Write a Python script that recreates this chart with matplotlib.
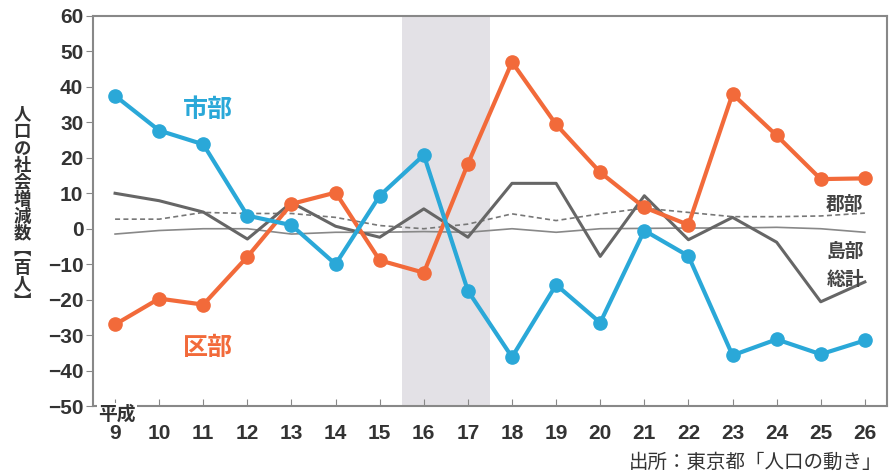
import matplotlib
matplotlib.use("Agg")
import matplotlib.pyplot as plt

plt.rcParams['font.family'] = ['Noto Sans CJK JP', 'DejaVu Sans']

years = list(range(9, 27))
shibu = [37.5, 27.7, 23.8, 3.7, 1.0, -10.0, 9.3, 20.8, -17.5, -36.2, -15.8, -26.5,
         -0.5, -7.7, -35.7, -31.2, -35.4, -31.5]
kubu = [-27.0, -19.7, -21.4, -7.9, 7.0, 10.2, -8.9, -12.4, 18.3, 47.0, 29.4, 15.9,
        6.0, 1.1, 38.0, 26.3, 14.0, 14.2]
soukei = [10.0, 7.9, 4.7, -2.9, 7.4, 0.7, -2.4, 5.6, -2.4, 12.8, 12.8, -7.8,
          9.3, -3.1, 3.2, -3.8, -20.6, -15.0]
gunbu = [2.7, 2.7, 4.6, 4.3, 4.3, 3.2, 0.9, 0.0, 1.3, 4.2, 2.3, 4.2,
         5.8, 4.6, 3.4, 3.4, 3.6, 4.4]
tobu = [-1.5, -0.5, 0.0, 0.0, -1.5, -1.0, -1.0, -0.8, -1.0, 0.0, -1.0, 0.0,
        0.1, 0.2, 0.2, 0.4, 0.0, -1.0]

blue = '#2aa8d8'
orange = '#f26a3a'
text_col = '#333333'

fig = plt.figure(figsize=(8.91, 4.73), dpi=100)
ax = fig.add_axes([0.1044, 0.1416, 0.891, 0.8246])

# shaded band (H16-17)
ax.axvspan(15.5, 17.5, color='#e3e1e6', zorder=0, lw=0)

ax.plot(years, tobu, color='#888888', lw=1.2, zorder=2)
ax.plot(years, gunbu, color='#777777', lw=1.2, ls=(0, (3, 2)), zorder=2)
ax.plot(years, soukei, color='#666666', lw=2.2, zorder=3)
ax.plot(years, kubu, color=orange, lw=3, marker='o', ms=9.5, zorder=4)
ax.plot(years, shibu, color=blue, lw=3, marker='o', ms=9.5, zorder=5)

ax.set_xlim(8.5, 26.5)
ax.set_ylim(-50, 60)
ax.set_yticks(range(-50, 61, 10))
ax.set_xticks(years)
ax.set_xticklabels([str(y) for y in years])

for s in ax.spines.values():
    s.set_color('#888888')
    s.set_linewidth(1.5)

ax.tick_params(axis='y', direction='out', length=5, color='#888888',
               labelsize=15, labelcolor=text_col, pad=2)
ax.tick_params(axis='x', direction='in', length=5, color='#888888',
               labelsize=15, labelcolor=text_col, pad=13)
for lab in ax.get_xticklabels() + ax.get_yticklabels():
    lab.set_fontweight('bold')
    lab.set_family(['Liberation Sans', 'DejaVu Sans'])

# series labels
ax.text(11.1, 33.5, '市部', color=blue, fontsize=18, fontweight='bold', ha='center', va='center')
ax.text(11.1, -33.5, '区部', color=orange, fontsize=18, fontweight='bold', ha='center', va='center')
ax.text(25.55, 6.9, '郡部', color='#444444', fontsize=13.5, fontweight='bold', ha='center', va='center')
ax.text(25.55, -6.3, '島部', color='#444444', fontsize=13.5, fontweight='bold', ha='center', va='center')
ax.text(25.55, -14.2, '総計', color='#444444', fontsize=13.5, fontweight='bold', ha='center', va='center')

# era label
ax.text(9.05, -52.3, '平成', color=text_col, fontsize=13.5, fontweight='bold',
        ha='center', va='center', zorder=6,
        bbox=dict(facecolor='white', edgecolor='none', pad=1.0), clip_on=False)

# vertical y label
ylabel = '\n'.join(list('人口の社会増減数') + ['︻', '百', '人', '︼'])
fig.text(0.025, 0.56, ylabel, color=text_col, fontsize=12.5, fontweight='bold',
         ha='center', va='center', linespacing=0.93)

fig.text(0.99, 0.022, '出所：東京都「人口の動き」', color=text_col, fontsize=14,
         ha='right', va='center')

fig.savefig('out.png', dpi=100)
